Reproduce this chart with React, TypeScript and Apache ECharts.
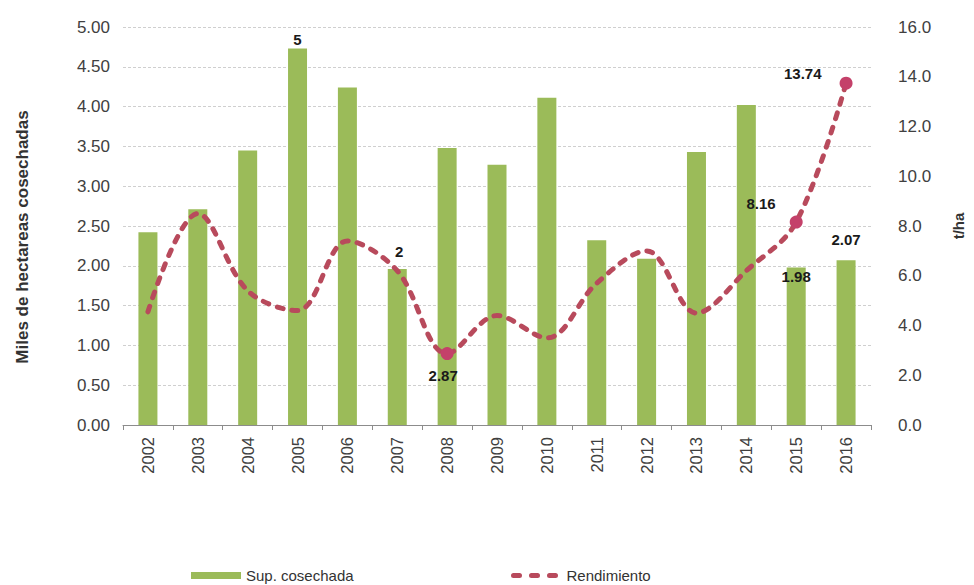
import React, { useEffect, useRef } from "react";
import * as echarts from "echarts";

const years = ["2002","2003","2004","2005","2006","2007","2008","2009","2010","2011","2012","2013","2014","2015","2016"];
const supCosechada = [2.42, 2.71, 3.45, 4.73, 4.24, 1.96, 3.48, 3.27, 4.11, 2.32, 2.09, 3.43, 4.02, 1.98, 2.07];
const rendimiento = [4.55, 8.5, 5.4, 4.6, 7.4, 6.2, 2.87, 4.4, 3.5, 5.7, 7.0, 4.5, 6.2, 8.16, 13.74];
const barLabels: Record<number, string> = { 3: "5", 5: "2", 13: "1.98", 14: "2.07" };
const lineLabels: Record<number, string> = { 6: "2.87", 13: "8.16", 14: "13.74" };
const leftTicks = { min: 0, max: 5, interval: 0.5 };
const rightTicks = { min: 0, max: 16, interval: 2 };

const BAR = "#9bbb59";
const LINE = "#b84a5c";
const MARK = "#c4416a";
const FONT = "'Liberation Sans', Arial, sans-serif";

export default function App() {
  const ref = useRef<HTMLDivElement>(null);
  useEffect(() => {
    if (!ref.current) return;
    const chart = echarts.init(ref.current, null, { renderer: "svg" });
    const labelStyle = { fontFamily: FONT, fontWeight: "bold", fontSize: 15, color: "#1a1a1a" };
    const barOffsets: Record<number, any> = {
      3: { position: "top", distance: 1 },
      5: { position: "top", distance: 10, offset: [2, 0] },
      13: { position: "insideTop", distance: 2 },
      14: { position: "top", distance: 13 },
    };
    const lineOffsets: Record<number, any> = {
      6: { position: "bottom", distance: 8, offset: [-4, 0] },
      13: { position: "left", distance: 0, offset: [-14, -19] },
      14: { position: "left", distance: 0, offset: [-18, -10] },
    };
    const barData = supCosechada.map((v, i) =>
      barLabels[i] !== undefined
        ? { value: v, label: { show: true, formatter: barLabels[i], ...labelStyle, ...barOffsets[i] } }
        : v
    );
    const lineData = rendimiento.map((v, i) =>
      lineLabels[i] !== undefined
        ? {
            value: v,
            symbol: "circle",
            symbolSize: 13,
            itemStyle: { color: MARK },
            label: { show: true, formatter: lineLabels[i], ...labelStyle, ...lineOffsets[i] },
          }
        : { value: v, symbol: "none" }
    );
    chart.setOption({
      animation: false,
      textStyle: { fontFamily: FONT },
      grid: { left: 123, right: 96, top: 27, bottom: 160 },
      legend: [
        {
          data: [{ name: "Sup. cosechada", icon: "rect" }],
          left: 186,
          top: 563,
          itemWidth: 50,
          itemHeight: 7,
          textStyle: { fontFamily: FONT, fontSize: 15, color: "#333" },
        },
        {
          data: [{ name: "Rendimiento", itemStyle: { opacity: 0 } }],
          left: 506,
          top: 563,
          itemWidth: 48,
          itemHeight: 7,
          itemGap: 14,
          lineStyle: { width: 5, type: [6, 12], color: LINE, cap: "round" },
          textStyle: { fontFamily: FONT, fontSize: 15, color: "#333" },
        },
      ],
      xAxis: {
        type: "category",
        data: years,
        boundaryGap: true,
        axisLine: { lineStyle: { color: "#8c8c8c", width: 1 } },
        axisTick: { show: true, length: 5, lineStyle: { color: "#8c8c8c" } },
        axisLabel: { rotate: 90, margin: 12, fontSize: 16.5, color: "#404040", fontFamily: FONT },
      },
      yAxis: [
        {
          type: "value",
          ...leftTicks,
          name: "Miles de hectareas cosechadas",
          nameLocation: "middle",
          nameRotate: 90,
          nameGap: 92,
          nameTextStyle: { fontFamily: FONT, fontWeight: "bold", fontSize: 17, color: "#333", padding: [0, 22, 0, 0] },
          axisLine: { show: false },
          axisTick: { show: false },
          axisLabel: { formatter: (v: number) => v.toFixed(2), fontSize: 17, color: "#404040", margin: 13, fontFamily: FONT },
          splitLine: { show: true, lineStyle: { color: "#cfcfcf", type: [3, 2] } },
        },
        {
          type: "value",
          ...rightTicks,
          name: "t/ha",
          nameLocation: "middle",
          nameRotate: 90,
          nameGap: 80,
          nameTextStyle: { fontFamily: FONT, fontWeight: "bold", fontSize: 15, color: "#333" },
          axisLine: { show: false },
          axisTick: { show: false },
          axisLabel: { formatter: (v: number) => v.toFixed(1), fontSize: 17, color: "#404040", margin: 27, fontFamily: FONT },
          splitLine: { show: false },
        },
      ],
      series: [
        {
          name: "Sup. cosechada",
          type: "bar",
          yAxisIndex: 0,
          data: barData,
          barWidth: 19,
          itemStyle: { color: BAR },
        },
        {
          name: "Rendimiento",
          type: "line",
          yAxisIndex: 1,
          data: lineData,
          smooth: 0.35,
          symbol: "none",
          itemStyle: { color: LINE },
          lineStyle: { color: LINE, width: 5, type: [6, 9], cap: "round" },
          z: 3,
        },
      ],
    });
    return () => chart.dispose();
  }, []);
  return <div ref={ref} style={{ width: 974, height: 585, position: "absolute", left: 0, top: 0 }} />;
}
